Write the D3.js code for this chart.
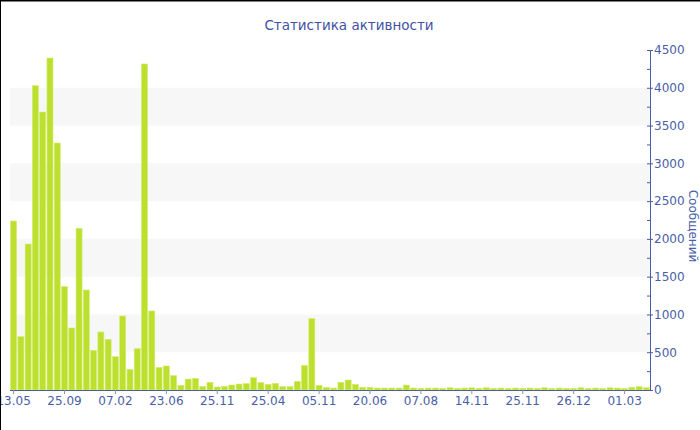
<!DOCTYPE html>
<html><head><meta charset="utf-8">
<script src="https://cdn.jsdelivr.net/npm/d3@7"></script>
<style>
html,body{margin:0;padding:0;background:#fff;}
svg{display:block;font-family:"DejaVu Sans",Verdana,sans-serif;}
</style></head>
<body>
<script>
const title = "Статистика активности";
const yTitle = "Сообщений";
const values = [2237,706,1932,4028,3679,4394,3269,1368,821,2140,
1324,525,768,671,441,979,274,547,4315,1046,
300,318,190,62,145,154,48,101,40,48,
66,79,84,163,97,75,88,44,44,115,
326,945,62,35,26,101,132,75,35,35,
26,26,26,26,66,26,22,26,26,22,
30,22,26,30,22,30,22,26,22,26,
22,26,22,30,22,26,22,22,30,22,
26,22,30,26,22,35,44,30];
const tickLabels = ["13.05","25.09","07.02","23.06","25.11","25.04","05.11","20.06","07.08","14.11","25.11","26.12","01.03"];
const tickEvery = 7;
const yTicks = [0,500,1000,1500,2000,2500,3000,3500,4000,4500];
const bands = [[500,1000],[1500,2000],[2500,3000],[3500,4000]];

const W=700,H=430;
const m={left:10,right:50,top:50,bottom:40};
const axisColor="#4a5ea6";
const svg=d3.select("body").append("svg").attr("width",W).attr("height",H);

const x=d3.scaleBand().domain(d3.range(values.length)).range([m.left,W-m.right]).paddingInner(0.17).paddingOuter(0.08);
const y=d3.scaleLinear().domain([0,4500]).range([H-m.bottom,m.top]);

// bands
svg.append("g").selectAll("rect").data(bands).join("rect")
 .attr("x",m.left).attr("width",W-m.right-m.left)
 .attr("y",d=>y(d[1])).attr("height",d=>y(d[0])-y(d[1]))
 .attr("fill","#f7f7f7");

// bars
svg.append("g").selectAll("rect").data(values).join("rect")
 .attr("x",(d,i)=>x(i)).attr("width",x.bandwidth())
 .attr("y",d=>y(d)).attr("height",d=>y(0)-y(d))
 .attr("fill","#bde02f").attr("stroke","#d3ec74").attr("stroke-width",0.6);

// x axis
const tickIdx=tickLabels.map((t,k)=>k*tickEvery);
const xAxis=d3.axisBottom(x).tickValues(tickIdx).tickFormat((d)=>tickLabels[d/tickEvery]).tickSize(4).tickSizeOuter(0);
const gx=svg.append("g").attr("transform",`translate(0,${H-m.bottom})`).call(xAxis);
gx.select(".domain").attr("stroke",axisColor).attr("d",`M${m.left},0.5H${W-m.right}`);
gx.selectAll(".tick line").attr("stroke","#8a8fa8");
gx.selectAll(".tick text").attr("fill",axisColor).attr("font-size",12).attr("font-family","DejaVu Sans").attr("y",5).attr("dy","0.8em");

// y axis right
const gy=svg.append("g").attr("transform",`translate(${W-m.right},0)`);
const yAxis=d3.axisRight(y).tickValues(yTicks).tickFormat(d3.format("d")).tickSize(3).tickSizeOuter(0);
gy.call(yAxis);
gy.select(".domain").attr("stroke",axisColor);
gy.selectAll(".tick line").attr("stroke",axisColor).attr("x1",-3).attr("x2",3);
gy.selectAll(".tick text").attr("fill",axisColor).attr("font-size",12).attr("font-family","DejaVu Sans").attr("x",4);
// minor ticks
gy.append("g").selectAll("line").data(d3.range(250,4500,500)).join("line")
 .attr("x1",-3).attr("x2",0).attr("y1",d=>y(d)+0.5).attr("y2",d=>y(d)+0.5).attr("stroke",axisColor);

// y title
svg.append("text").attr("transform",`translate(689,226) rotate(90)`)
 .attr("text-anchor","middle").attr("fill",axisColor).attr("font-size",12).text(yTitle);

// title
svg.append("text").attr("x",349).attr("y",30).attr("text-anchor","middle")
 .attr("fill","#3f52a3").attr("font-size",13.5).text(title);

// frame
svg.append("line").attr("x1",0).attr("x2",W).attr("y1",0.5).attr("y2",0.5).attr("stroke","#000").attr("stroke-width",2);
svg.append("line").attr("x1",0.5).attr("x2",0.5).attr("y1",0).attr("y2",H).attr("stroke","#000").attr("stroke-width",1);
</script>
</body></html>
